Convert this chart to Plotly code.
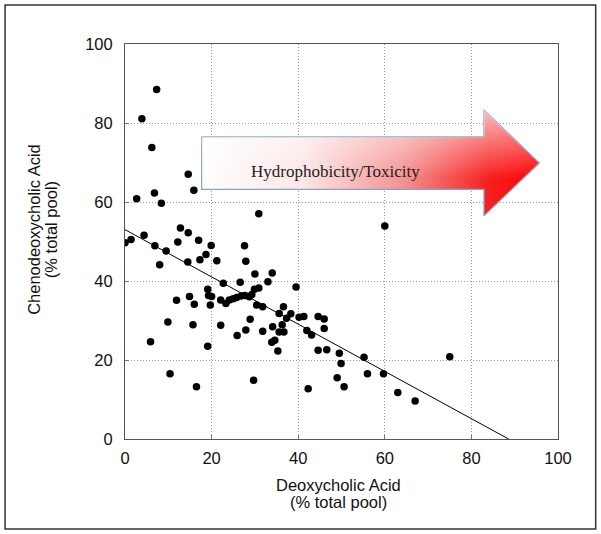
import plotly.graph_objects as go

# Deoxycholic vs chenodeoxycholic acid, % of total bile acid pool
deoxycholic = [
    7.3, 3.9, 6.2, 14.6, 6.8, 15.9, 2.7, 8.4, 30.9, 12.8,
    0.0, 1.4, 4.4, 6.9, 12.2, 14.6, 9.5, 8.0, 14.5, 17.0,
    17.3, 18.7, 19.9, 21.2, 27.6, 27.9, 30.0, 22.7, 26.6, 34.0,
    33.0, 39.5, 19.1, 19.3, 20.0, 19.7, 11.9, 14.9, 16.0, 9.9,
    15.7, 5.9, 19.1, 10.4, 16.5, 22.1, 22.1, 23.3, 24.1, 25.0,
    25.8, 26.8, 27.7, 28.7, 29.3, 25.9, 27.9, 28.9, 29.7, 29.9,
    30.9, 30.4, 31.8, 31.8, 33.9, 34.6, 34.1, 35.3, 35.6, 36.3,
    36.6, 35.6, 36.7, 37.3, 38.3, 40.2, 41.3, 44.6, 46.0, 42.0,
    43.1, 46.0, 44.6, 46.6, 49.5, 49.9, 49.0, 50.6, 42.3, 55.2,
    56.0, 59.7, 63.0, 67.0, 75.0, 60.0,
]
chenodeoxycholic = [
    88.5, 81.1, 73.8, 67.0, 62.3, 63.0, 60.8, 59.7, 57.0, 53.4,
    49.7, 50.5, 51.6, 48.9, 49.9, 52.2, 47.6, 44.1, 44.8, 50.3,
    45.4, 46.7, 49.0, 45.1, 48.9, 45.0, 41.8, 39.4, 39.7, 42.0,
    39.8, 38.5, 37.9, 36.3, 36.1, 33.9, 35.1, 36.1, 34.1, 29.6,
    28.9, 24.6, 23.5, 16.5, 13.2, 35.2, 28.8, 34.3, 35.2, 35.5,
    35.8, 36.2, 36.3, 36.0, 36.6, 26.2, 27.6, 30.3, 14.9, 37.9,
    38.2, 33.9, 33.5, 27.3, 24.5, 25.0, 28.4, 22.3, 31.8, 28.9,
    33.5, 27.1, 27.1, 30.6, 31.7, 30.8, 31.0, 31.0, 30.4, 27.5,
    26.3, 28.0, 22.5, 22.6, 21.7, 19.1, 15.5, 13.2, 12.7, 20.7,
    16.5, 16.5, 11.8, 9.6, 20.8, 53.9,
]

# fitted line end points
fit_x = [0, 88.6]
fit_y = [53.0, 0]

tick_vals = [0, 20, 40, 60, 80, 100]

fig = go.Figure()

# gradient arrow
ax = [17.7, 82.9, 82.9, 95.7, 82.9, 82.9, 17.7, 17.7]
ay = [76.5, 76.5, 83.3, 69.9, 56.5, 63.2, 63.2, 76.5]
fig.add_trace(go.Scatter(
    x=ax, y=ay, mode="lines", fill="toself",
    line=dict(color="#88a3c9", width=1.2),
    fillgradient=dict(type="horizontal",
                      colorscale=[[0, "#ffffff"], [0.3, "#fce6e6"],
                                  [0.6, "#f49090"], [0.85, "#f52020"], [1, "#ff0000"]]),
    hoverinfo="skip", showlegend=False,
))
fig.add_trace(go.Scatter(
    x=ax, y=ay, mode="none", fill="toself",
    fillgradient=dict(type="vertical",
                      colorscale=[[0, "rgba(255,255,255,0)"],
                                  [0.35, "rgba(255,255,255,0)"],
                                  [1, "rgba(255,255,255,0.7)"]]),
    hoverinfo="skip", showlegend=False,
))

fig.add_trace(go.Scatter(
    x=fit_x, y=fit_y, mode="lines",
    line=dict(color="black", width=1), showlegend=False,
))
fig.add_trace(go.Scatter(
    x=deoxycholic, y=chenodeoxycholic, mode="markers",
    marker=dict(color="black", size=7.5), showlegend=False,
))

axis_style = dict(
    range=[0, 100], tickvals=tick_vals, showgrid=True,
    gridcolor="#9a9a9a", griddash="1px,2px", gridwidth=1,
    showline=True, linecolor="#555555", linewidth=1, mirror=True,
    ticks="inside", ticklen=4, tickcolor="#777777", zeroline=False,
    tickfont=dict(family="Liberation Sans", size=16.5, color="#111111"),
)

fig.update_layout(
    width=601, height=534,
    margin=dict(l=125, r=43, t=44, b=95),
    paper_bgcolor="white", plot_bgcolor="white",
    xaxis=dict(**axis_style, ticklabelstandoff=4),
    yaxis=dict(**axis_style, ticklabelstandoff=8),
    font=dict(family="Liberation Sans", color="#111111"),
    annotations=[
        dict(text="Hydrophobicity/Toxicity", x=48.5, y=67.6, xref="x", yref="y",
             showarrow=False, font=dict(family="Liberation Serif", size=17, color="#222222")),
        dict(text="Deoxycholic Acid", x=0.494, y=-0.117, xref="paper", yref="paper",
             showarrow=False, yanchor="middle", font=dict(size=16.5)),
        dict(text="(% total pool)", x=0.494, y=-0.16, xref="paper", yref="paper",
             showarrow=False, yanchor="middle", font=dict(size=16.5)),
        dict(text="Chenodeoxycholic Acid", x=-0.212, y=0.53, xref="paper", yref="paper",
             showarrow=False, xanchor="center", textangle=-90, font=dict(size=16.5)),
        dict(text="(% total pool)", x=-0.172, y=0.53, xref="paper", yref="paper",
             showarrow=False, xanchor="center", textangle=-90, font=dict(size=16.5)),
    ],
    shapes=[
        dict(type="rect", xref="paper", yref="paper",
             x0=-0.277, x1=1.087, y0=-0.228, y1=1.099,
             line=dict(color="#333333", width=1.5), layer="below"),
    ],
)

fig.write_html("out.html", config={"displayModeBar": False},
               post_script="document.body.style.margin='0';document.body.style.overflow='hidden';")
